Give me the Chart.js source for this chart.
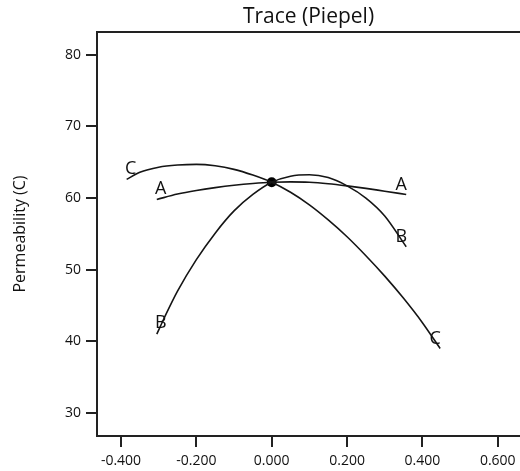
<!DOCTYPE html>
<html>
<head>
<meta charset="utf-8">
<script src="https://cdn.jsdelivr.net/npm/chart.js@4.4.0/dist/chart.umd.min.js"></script>
<style>
    html, body { margin: 0; padding: 0; background: #fff; }
    #wrap { width: 520px; height: 471px; }
</style>
</head>
<body>
<div id="wrap"><canvas id="traceChart"></canvas></div>
<script>
// Trace curves (deviation from reference blend vs permeability)
const traceX_A = [-0.305, -0.25, -0.20, -0.15, -0.10, -0.05, 0, 0.05, 0.10, 0.15, 0.20, 0.25, 0.30, 0.357];
const traceY_A = [59.8, 60.55, 61.05, 61.45, 61.78, 62.03, 62.2, 62.25, 62.2, 62.0, 61.7, 61.35, 60.95, 60.5];

const traceX_B = [-0.305, -0.284, -0.25, -0.20, -0.15, -0.10, -0.05, 0, 0.05, 0.10, 0.15, 0.20, 0.25, 0.30, 0.357];
const traceY_B = [41.0, 43.4, 47.0, 51.4, 55.1, 58.2, 60.5, 62.2, 63.05, 63.25, 62.85, 61.7, 60.0, 57.5, 53.2];

const traceX_C = [-0.385, -0.35, -0.30, -0.25, -0.20, -0.15, -0.10, -0.05, 0, 0.05, 0.10, 0.15, 0.20, 0.25, 0.30, 0.35, 0.40, 0.447];
const traceY_C = [62.6, 63.6, 64.3, 64.6, 64.7, 64.5, 64.0, 63.2, 62.2, 60.8, 59.05, 56.95, 54.6, 51.95, 49.1, 46.0, 42.6, 39.0];

const curveNames = ['A', 'B', 'C'];
const refPointX = [0];
const refPointY = [62.2];

const chartTitle = 'Trace (Piepel)';
const yAxisTitle = 'Permeability (C)';

const FONT = "'Open Sans', 'DejaVu Sans', sans-serif";

function toPoints(xs, ys) {
    return xs.map((x, i) => ({ x: x, y: ys[i] }));
}

// Draws the curve letter at both ends of each trace
const endLabels = {
    id: 'endLabels',
    afterDatasetsDraw(chart) {
        const ctx = chart.ctx;
        ctx.save();
        ctx.font = '18px ' + FONT;
        ctx.fillStyle = '#111';
        ctx.textAlign = 'center';
        ctx.textBaseline = 'middle';
        chart.data.datasets.forEach((ds, i) => {
            if (!ds.curveLabel) return;
            const pts = chart.getDatasetMeta(i).data;
            const first = pts[0];
            const last = pts[pts.length - 1];
            ctx.fillText(ds.curveLabel, first.x + 4, first.y - 11);
            ctx.fillText(ds.curveLabel, last.x - 5, last.y - 10);
        });
        ctx.restore();
    }
};

// Top frame line
const frame = {
    id: 'frame',
    afterDraw(chart) {
        const a = chart.chartArea;
        const ctx = chart.ctx;
        ctx.save();
        ctx.strokeStyle = '#222';
        ctx.lineWidth = 2;
        ctx.beginPath();
        ctx.moveTo(a.left, a.top);
        ctx.lineTo(a.right, a.top);
        ctx.stroke();
        ctx.restore();
    }
};

const lineStyle = {
    showLine: true,
    borderColor: '#151515',
    borderWidth: 1.6,
    pointRadius: 0,
    pointHoverRadius: 0,
    cubicInterpolationMode: 'monotone',
    fill: false
};

const datasets = [
    Object.assign({ label: curveNames[0], curveLabel: curveNames[0], data: toPoints(traceX_A, traceY_A) }, lineStyle),
    Object.assign({ label: curveNames[1], curveLabel: curveNames[1], data: toPoints(traceX_B, traceY_B) }, lineStyle),
    Object.assign({ label: curveNames[2], curveLabel: curveNames[2], data: toPoints(traceX_C, traceY_C) }, lineStyle),
    {
        label: 'ref',
        data: toPoints(refPointX, refPointY),
        showLine: false,
        pointRadius: 5,
        pointBackgroundColor: '#000',
        pointBorderColor: '#000',
        pointBorderWidth: 0
    }
];

const axisGrid = {
    drawOnChartArea: false,
    drawTicks: true,
    tickLength: 11,
    color: '#222',
    lineWidth: 2
};
const axisBorder = { display: true, color: '#222', width: 2 };

new Chart(document.getElementById('traceChart'), {
    type: 'scatter',
    data: { datasets: datasets },
    options: {
        responsive: true,
        maintainAspectRatio: false,
        animation: false,
        layout: { padding: 0, autoPadding: false },
        plugins: {
            legend: { display: false },
            tooltip: { enabled: false },
            title: {
                display: true,
                text: chartTitle,
                fullSize: false,
                color: '#111',
                font: { family: FONT, size: 21, weight: 'normal' },
                padding: { top: 4, bottom: 2.8 }
            }
        },
        scales: {
            x: {
                type: 'linear',
                min: -0.4637,
                max: 0.659,
                grid: axisGrid,
                border: axisBorder,
                ticks: {
                    stepSize: 0.2,
                    includeBounds: false,
                    padding: 6,
                    color: '#111',
                    font: { family: FONT, size: 14 },
                    maxRotation: 0,
                    callback: (v) => Number(v).toFixed(3)
                },
                afterFit: (scale) => {
                    scale.height = 35;
                    scale.paddingLeft = 0;
                    scale.paddingRight = 0;
                }
            },
            y: {
                type: 'linear',
                min: 26.79,
                max: 83.17,
                grid: axisGrid,
                border: axisBorder,
                title: {
                    display: true,
                    text: yAxisTitle,
                    color: '#111',
                    font: { family: FONT, size: 16 },
                    padding: { top: 11, bottom: 0 }
                },
                ticks: {
                    stepSize: 10,
                    includeBounds: false,
                    padding: 5,
                    color: '#111',
                    font: { family: FONT, size: 14 }
                },
                afterFit: (scale) => {
                    scale.width = 97;
                    scale.paddingTop = 0;
                    scale.paddingBottom = 0;
                }
            }
        }
    },
    plugins: [endLabels, frame]
});
</script>
</body>
</html>
